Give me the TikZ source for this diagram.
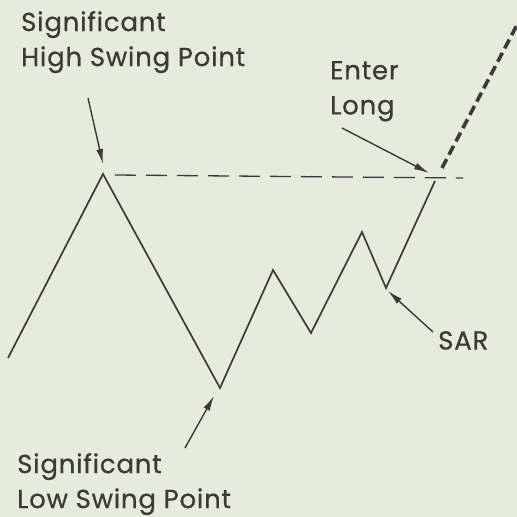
\documentclass[tikz,border=0pt]{standalone}
\usepackage{fontspec}
\setmainfont{Poppins}
\newfontfamily\notefont{Poppins}[FakeBold=0.6, LetterSpace=3]
\usetikzlibrary{arrows.meta}
\definecolor{paper}{HTML}{E7EBDD}
\definecolor{ink}{HTML}{3A3A36}
\begin{document}
\begin{tikzpicture}[x=1pt, y=-1pt,
  lbl/.style={anchor=north west, inner sep=0pt, align=left, text=ink,
    font=\notefont\fontsize{26}{35}\selectfont},
  swing/.style={draw=ink, line width=1.7pt, line join=miter},
  pointer/.style={draw=ink, line width=1.4pt, -{Latex[length=15pt, width=7pt]}}]
\fill[paper] (0,0) rectangle (517,517);
\useasboundingbox (0,0) rectangle (517,517);
% swing points
\coordinate (p0) at (8,358);
\coordinate (high) at (103,174);
\coordinate (low) at (220,388);
\coordinate (p3) at (273,270);
\coordinate (p4) at (311,333);
\coordinate (p5) at (362,232);
\coordinate (sarpt) at (386,288);
\coordinate (entry) at (435,181);
\draw[swing] (p0) -- (high) -- (low) -- (p3) -- (p4) -- (p5) -- (sarpt) -- (entry);
% breakout level and continuation
\coordinate (lvlA) at (115,175);
\coordinate (lvlB) at (463,178);
\draw[ink, line width=1.3pt, dash pattern=on 21pt off 10pt] (lvlA) -- (lvlB);
\coordinate (upA) at (442,168);
\coordinate (upB) at (518,23);
\draw[ink, line width=3.6pt, dash pattern=on 10pt off 5pt] (upA) -- (upB);
% labels
\node[lbl] (hsp) at (21,11) {Significant\\High Swing Point};
\node[lbl] (enter) at (330,61) {Enter\\Long};
\node[lbl] (sar) at (438,331) {SAR};
\node[lbl] (lsp) at (17,453) {Significant\\Low Swing Point};
% pointers
\coordinate (hspTail) at (88,98);
\coordinate (hspTip) at (103,164);
\draw[pointer] (hspTail) -- (hspTip);
\coordinate (enterTail) at (342,128);
\coordinate (enterTip) at (429,173);
\draw[pointer] (enterTail) -- (enterTip);
\coordinate (sarTail) at (433,332);
\coordinate (sarTip) at (388,291);
\draw[pointer] (sarTail) -- (sarTip);
\coordinate (lspTail) at (185,448);
\coordinate (lspTip) at (214,396);
\draw[pointer] (lspTail) -- (lspTip);
\end{tikzpicture}
\end{document}
